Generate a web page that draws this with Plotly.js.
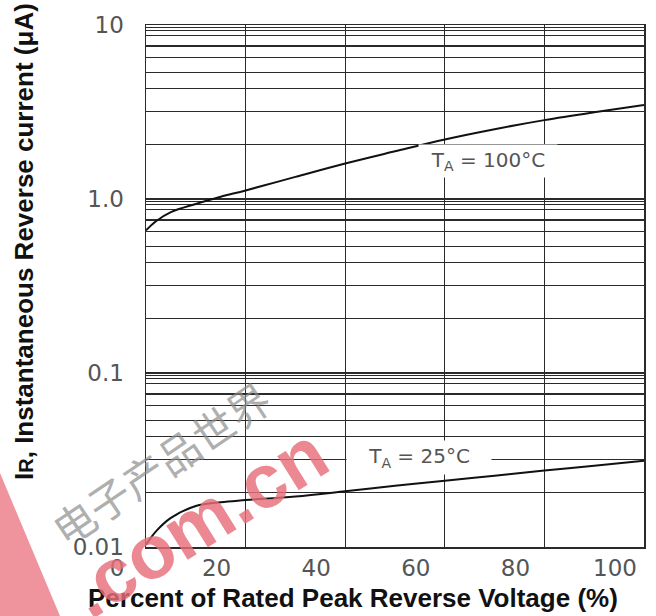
<!DOCTYPE html>
<html>
<head>
<meta charset="utf-8">
<script src="https://cdn.plot.ly/plotly-3.0.1.min.js"></script>
<style>html,body{margin:0;padding:0;background:#fff;}#chart{width:656px;height:616px;}</style>
</head>
<body>
<div id="chart"></div>
<script>
// ---- data ----
const voltagePct = [0, 2, 5, 10, 15, 20, 30, 40, 50, 60, 70, 80, 90, 100];
const ir100C = [0.66, 0.745, 0.84, 0.937, 1.03, 1.12, 1.34, 1.6, 1.88, 2.2, 2.52, 2.84, 3.15, 3.47];
const ir25C = [0.0103, 0.0123, 0.0147, 0.0172, 0.0181, 0.0186, 0.0195, 0.0209, 0.0225, 0.024, 0.0257, 0.0275, 0.0293, 0.0313];
const xTickVals = [0, 20, 40, 60, 80, 100];
const xTickText = ["0", "20", "40", "60", "80", "100"];
const yTickVals = [0.01, 0.1, 1, 10];
const yTickText = ["0.01", "0.1", "1.0", "10"];
const seriesLabels = ["T<sub>A</sub> = 100°C", "T<sub>A</sub> = 25°C"];
const xTitle = "Percent of Rated Peak Reverse Voltage (%)";
const yTitle = "I<span style=\"font-size:20px\">R</span>, Instantaneous Reverse current (μA)";
const watermarkCN = "电子产品世界";
const watermarkEN = ".com.cn";
// grid line multipliers within each decade (as drawn on the original sheet)
const decades = [0.01, 0.1, 1];
const decadeGrid = [2.05, 3.2, 4.33, 5.35, 6.5, 7.58, 8.68, 9.3, 9.65];
const minorGridVals = [];
decades.forEach(d => decadeGrid.forEach(m => minorGridVals.push(d * m)));

const gridCol = '#2a2a2a';
const tickFont = {family: 'DejaVu Sans, Arial, sans-serif', size: 23, color: '#555'};
const labelFont = {family: 'DejaVu Sans, Arial, sans-serif', size: 20, color: '#555'};

const traces = [
  {x: voltagePct, y: ir100C, mode: 'lines', line: {color: '#111', width: 2, shape: 'spline', smoothing: 1}, hoverinfo: 'skip'},
  {x: voltagePct, y: ir25C, mode: 'lines', line: {color: '#111', width: 2, shape: 'spline', smoothing: 1}, hoverinfo: 'skip'}
];

const layout = {
  width: 656, height: 616,
  margin: {l: 146, r: 12, t: 25, b: 69, pad: 0},
  paper_bgcolor: '#fff', plot_bgcolor: '#fff',
  showlegend: false,
  xaxis: {
    range: [0, 100], tickmode: 'array', tickvals: xTickVals, ticktext: xTickText,
    showgrid: true, gridcolor: gridCol, gridwidth: 1.3,
    showline: true, linecolor: gridCol, linewidth: 1.5, mirror: true,
    zeroline: false, ticks: '', tickfont: tickFont,
    ticklabelshift: -29, ticklabelstandoff: 0, fixedrange: true
  },
  yaxis: {
    type: 'log', range: [-2, 1], tickmode: 'array', tickvals: yTickVals, ticktext: yTickText,
    showgrid: true, gridcolor: gridCol, gridwidth: 1.3,
    minor: {tickmode: 'array', tickvals: minorGridVals, showgrid: true, gridcolor: gridCol, gridwidth: 1.2, ticks: ''},
    showline: true, linecolor: gridCol, linewidth: 1.5, mirror: true,
    zeroline: false, ticks: '', tickfont: tickFont,
    ticklabelstandoff: 16, fixedrange: true
  },
  annotations: [
    {x: 68.6, y: Math.log10(1.66), xref: 'x', yref: 'y', text: seriesLabels[0], showarrow: false,
     font: labelFont, bgcolor: '#fff', width: 136, height: 30, xanchor: 'center', yanchor: 'middle'},
    {x: 54.8, y: Math.log10(0.0325), xref: 'x', yref: 'y', text: seriesLabels[1], showarrow: false,
     font: labelFont, bgcolor: '#fff', width: 142, height: 31, xanchor: 'center', yanchor: 'middle'},
    {x: (353 - 146) / 498, y: (547 - 598) / 522, xref: 'paper', yref: 'paper', text: xTitle, showarrow: false,
     font: {family: 'Liberation Sans, Arial, sans-serif', size: 26, color: '#111', weight: 'bold'},
     xanchor: 'center', yanchor: 'middle'},
    {x: (24 - 146) / 498, y: (547 - 242) / 522, xref: 'paper', yref: 'paper', text: yTitle, showarrow: false,
     textangle: -90,
     font: {family: 'Liberation Sans, Arial, sans-serif', size: 26, color: '#111', weight: 'bold'},
     xanchor: 'center', yanchor: 'middle'},
    {x: (160 - 146) / 498, y: (547 - 462) / 522, xref: 'paper', yref: 'paper', text: watermarkCN, showarrow: false,
     textangle: -34,
     font: {family: 'Noto Sans CJK SC, sans-serif', size: 42, color: 'rgba(140,140,140,0.7)'},
     xanchor: 'center', yanchor: 'middle'},
    {x: (197 - 146) / 498, y: (547 - 522) / 522, xref: 'paper', yref: 'paper', text: watermarkEN, showarrow: false,
     textangle: -32,
     font: {family: 'Liberation Sans, Arial, sans-serif', size: 76, color: 'rgba(232,110,122,0.82)', weight: 'bold'},
     xanchor: 'center', yanchor: 'middle'}
  ],
  shapes: [
    {type: 'path', xref: 'paper', yref: 'paper', layer: 'above',
     path: 'M ' + ((0 - 146) / 498) + ' ' + ((547 - 473) / 522) + ' L ' + ((60 - 146) / 498) + ' ' + ((547 - 616) / 522) +
           ' L ' + ((0 - 146) / 498) + ' ' + ((547 - 616) / 522) + ' Z',
     fillcolor: 'rgba(235,120,132,0.8)', line: {width: 0}}
  ]
};

Plotly.newPlot('chart', traces, layout, {displayModeBar: false, staticPlot: true});
</script>
</body>
</html>
